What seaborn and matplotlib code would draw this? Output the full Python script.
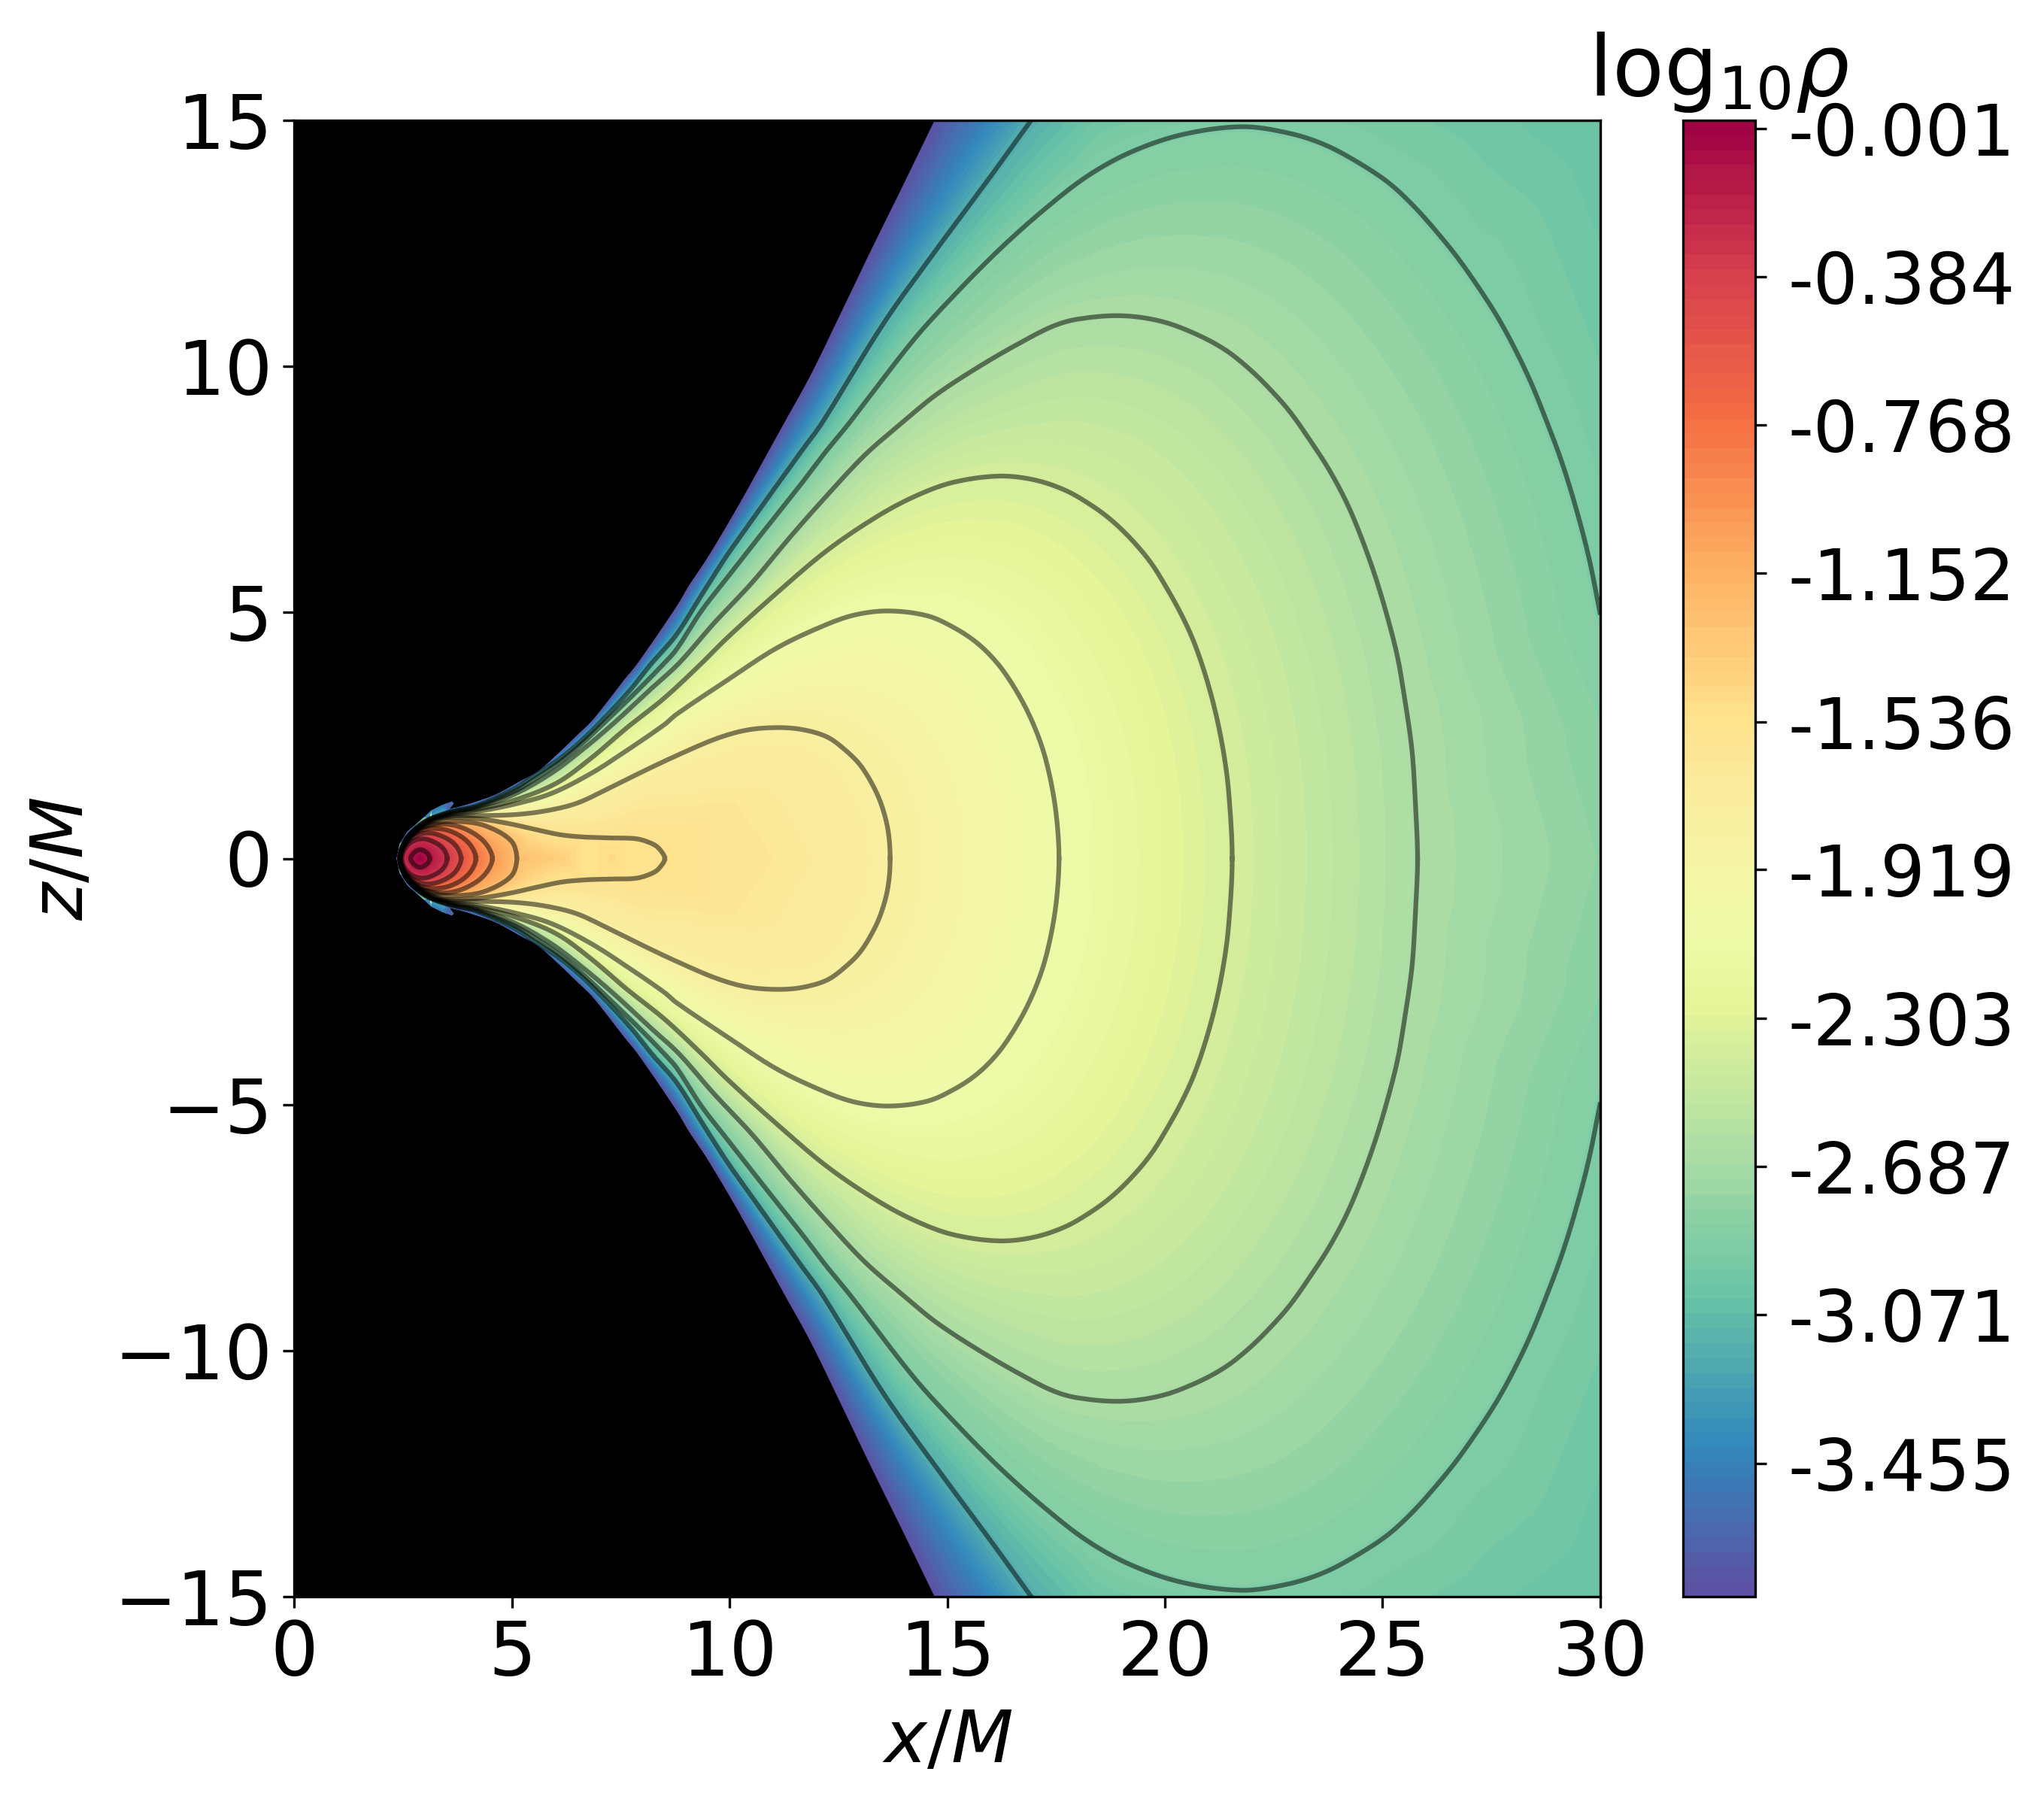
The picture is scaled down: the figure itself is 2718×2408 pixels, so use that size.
import numpy as np
import pandas as pd
import matplotlib
matplotlib.use("Agg")
import matplotlib.pyplot as plt
import matplotlib.tri as mtri
from matplotlib.colors import LinearSegmentedColormap
import seaborn as sns

# -----------------------------
# Data (upper half, disc is mirrored in z)
# -----------------------------
spike_x = [2.35, 2.42, 2.60, 2.85, 2.98, 3.15, 3.40, 3.62, 3.66, 3.56]
spike_z = [0.00, 0.30, 0.55, 0.74, 0.84, 0.98, 1.09, 1.16, 1.12, 1.00]
spike_val = [-3.78, -3.78, -3.78, -3.70, -3.60, -3.55, -3.55, -3.60, -3.60, -3.70]
bnd_x = [3.75, 4.06, 4.63, 5.21, 5.61, 6.13, 6.48, 6.82, 7.17, 7.57, 7.89, 8.78, 9.07, 9.47, 9.94, 10.40, 10.86,
         11.26, 11.86, 12.56, 13.25, 13.98, 14.71]
bnd_z = [1.04, 1.12, 1.30, 1.58, 1.78, 2.19, 2.49, 2.78, 3.16, 3.62, 3.97, 5.12, 5.55, 6.08, 6.77, 7.48, 8.22,
         8.86, 9.82, 11.09, 12.36, 13.67, 15.00]
bnd_level = -3.78

contour_levels = [-3.17, -2.88, -2.65, -2.38, -2.08, -1.78, -1.55, -1.25, -1.00, -0.78, -0.55, -0.32, -0.12]

c1_x = [16.93, 16.03, 14.74, 13.55, 12.13, 11.67, 11.09, 10.51, 9.94, 9.36, 8.78, 8.21, 7.75, 7.17, 6.59, 6.07,
        5.50, 5.04, 4.17, 3.60, 3.10, 2.80, 2.55, 2.42]
c1_z = [15.0, 13.9, 12.36, 10.89, 8.86, 8.30, 7.59, 6.87, 6.16, 5.36, 4.55, 3.97, 3.46, 2.90, 2.39, 2.01,
        1.68, 1.41, 1.07, 0.955, 0.80, 0.62, 0.37, 0.0]
c2_x = [30.0, 29.75, 29.45, 29.13, 28.79, 28.44, 28.09, 27.69, 27.29, 26.77, 26.31, 25.74, 25.16, 24.47, 23.66,
        22.80, 21.76, 20.40, 19.21, 18.21, 17.22, 16.23, 15.24, 14.24, 12.76, 12.24, 11.67, 10.80, 9.94, 9.36, 8.78,
        8.50, 7.86, 7.17, 6.59, 6.07, 5.50, 5.04, 4.17, 3.60, 3.10, 2.80, 2.55, 2.42]
c2_z = [5.0, 6.10, 7.12, 8.04, 8.85, 9.62, 10.28, 10.94, 11.50, 12.16, 12.67, 13.24, 13.72, 14.13, 14.51,
        14.75, 14.87, 14.71, 14.35, 13.86, 13.18, 12.40, 11.52, 10.55, 8.86, 8.30, 7.64, 6.67, 5.70, 5.04, 4.25,
        3.97, 3.39, 2.80, 2.32, 1.94, 1.60, 1.36, 1.05, 0.945, 0.79, 0.61, 0.365, 0.0]
c3_x = [25.81, 25.76, 25.68, 25.49, 25.35, 25.15, 24.86, 24.51, 24.17, 23.77, 23.36, 22.90, 22.50, 21.98, 21.40,
        20.71, 19.90, 18.98, 18.00, 17.44, 16.72, 15.74, 14.74, 13.97, 13.11, 12.24, 11.38, 10.51, 9.65, 8.84, 8.21,
        7.34, 6.59, 5.90, 5.04, 4.17, 3.60, 3.10, 2.80, 2.55, 2.42]
c3_z = [0.0, 1.10, 2.21, 3.38, 4.09, 4.80, 5.67, 6.54, 7.25, 7.91, 8.47, 9.05, 9.46, 9.92, 10.33,
        10.66, 10.92, 11.03, 10.96, 10.82, 10.50, 10.00, 9.42, 8.86, 8.20, 7.38, 6.52, 5.60, 4.79, 3.97, 3.46,
        2.75, 2.19, 1.73, 1.30, 1.03, 0.93, 0.78, 0.60, 0.36, 0.0]
c4_x = [21.55, 21.47, 21.36, 21.18, 20.95, 20.67, 20.38, 20.03, 19.69, 19.28, 18.82, 18.36, 17.72, 16.97, 16.16,
        15.12, 14.26, 13.39, 12.24, 11.09, 9.94, 9.36, 8.50, 7.63, 6.82, 6.02, 5.04, 4.17, 3.60, 3.10, 2.80, 2.55,
        2.42]
c4_z = [0.0, 1.34, 2.11, 2.92, 3.68, 4.40, 4.96, 5.52, 6.00, 6.44, 6.84, 7.15, 7.48, 7.70, 7.77,
        7.64, 7.36, 6.95, 6.26, 5.40, 4.48, 3.97, 3.26, 2.65, 2.04, 1.53, 1.18, 0.99, 0.91, 0.76, 0.585, 0.35,
        0.0]
c5_x = [17.57, 17.52, 17.40, 17.20, 16.91, 16.56, 16.16, 15.70, 15.18, 14.55, 13.68, 12.93, 12.24, 11.09, 9.94,
        8.78, 8.50, 7.63, 6.82, 5.90, 5.04, 4.17, 3.60, 3.10, 2.80, 2.55, 2.43]
c5_z = [0.0, 0.78, 1.49, 2.21, 2.87, 3.45, 3.96, 4.37, 4.68, 4.93, 5.03, 4.96, 4.76, 4.28, 3.62,
        2.93, 2.72, 2.19, 1.73, 1.32, 1.10, 0.95, 0.89, 0.75, 0.57, 0.34, 0.0]
c6_x = [13.69, 13.64, 13.49, 13.29, 13.00, 12.65, 12.24, 11.67, 11.09, 10.40, 9.71, 8.78, 7.92, 7.17, 6.48, 5.79,
        5.04, 4.17, 3.60, 3.10, 2.80, 2.55, 2.43]
c6_z = [0.0, 0.58, 1.09, 1.49, 1.90, 2.21, 2.47, 2.62, 2.66, 2.61, 2.44, 2.09, 1.73, 1.40, 1.12, 0.97,
        0.89, 0.87, 0.855, 0.73, 0.56, 0.33, 0.0]
c7_x = [8.51, 8.38, 8.21, 7.86, 7.28, 6.71, 6.13, 5.56, 4.98, 4.40, 4.00, 3.54, 3.13, 2.80, 2.56, 2.42]
c7_z = [0.0, 0.20, 0.305, 0.40, 0.417, 0.433, 0.48, 0.585, 0.70, 0.79, 0.825, 0.84, 0.81, 0.62, 0.37, 0.0]
c8_x = [5.11, 4.98, 4.40, 3.83, 3.26, 2.67, 2.41]
c8_z = [0.0, 0.36, 0.66, 0.75, 0.72, 0.50, 0.0]
c9_x = [4.55, 4.35, 3.90, 3.40, 2.90, 2.55, 2.42]
c9_z = [0.0, 0.35, 0.61, 0.70, 0.60, 0.32, 0.0]
c10_x = [4.17, 4.00, 3.60, 3.15, 2.80, 2.53, 2.43]
c10_z = [0.0, 0.32, 0.55, 0.61, 0.52, 0.28, 0.0]
c11_x = [3.83, 3.70, 3.40, 3.05, 2.75, 2.53, 2.44]
c11_z = [0.0, 0.27, 0.45, 0.52, 0.44, 0.24, 0.0]
c12_x = [3.51, 3.42, 3.20, 2.95, 2.70, 2.53, 2.47]
c12_z = [0.0, 0.20, 0.34, 0.40, 0.34, 0.18, 0.0]
c13_x = [3.11, 3.05, 2.89, 2.75, 2.67]
c13_z = [0.0, 0.11, 0.18, 0.12, 0.0]

# values away from the contour lines (ridge, inside of the last lines, top and right edges)
extra_x = [2.89, 6.20, 7.30, 10.50, 12.00, 8.00, 10.50, 11.50, 9.50, 30.0, 30.0, 30.0, 30.0, 30.0, 27.5, 25.0, 21.7,
           18.5]
extra_z = [0.0, 0.0, 0.0, 0.0, 0.0, 1.10, 1.30, 1.60, 0.80, 0.0, 2.5, 7.5, 10.0, 15.0, 15.0, 15.0, 15.0, 15.0]
extra_val = [-0.001, -1.40, -1.47, -1.62, -1.68, -1.65, -1.66, -1.70, -1.60, -2.80, -2.83, -2.91, -2.95, -3.03,
             -2.98, -2.93, -2.88, -2.98]

# colour bar, position along the bar and colour
cmap_pos = [0.0, 0.1, 0.2, 0.3, 0.4, 0.45, 0.5, 0.55, 0.6, 0.7, 0.8, 0.9, 1.0]
cmap_col = ["#5e4fa2", "#3288bd", "#66c2a5", "#abdda4", "#e6f598", "#eefaa8", "#f6f4a4", "#fbeb9d", "#fee08b",
            "#fdae61", "#f46d43", "#d53e4f", "#9e0142"]

cbar_ticks = [-0.001, -0.384, -0.768, -1.152, -1.536, -1.919, -2.303, -2.687, -3.071, -3.455]
cbar_labels = ["-0.001", "-0.384", "-0.768", "-1.152", "-1.536", "-1.919", "-2.303", "-2.687", "-3.071", "-3.455"]
x_ticks = [0, 5, 10, 15, 20, 25, 30]
z_ticks = [-15, -10, -5, 0, 5, 10, 15]

contours = [(c1_x, c1_z), (c2_x, c2_z), (c3_x, c3_z), (c4_x, c4_z), (c5_x, c5_z), (c6_x, c6_z), (c7_x, c7_z),
            (c8_x, c8_z), (c9_x, c9_z), (c10_x, c10_z), (c11_x, c11_z), (c12_x, c12_z), (c13_x, c13_z)]


# -----------------------------
# Round off the corners between read points
# -----------------------------
def round_curve(px, pz, closed=False, steps=8):
    p = np.c_[px, pz]
    if closed:
        p = np.vstack([p[-2:-1], p, p[1:2]])
    else:
        p = np.vstack([2 * p[0] - p[1], p, 2 * p[-1] - p[-2]])
    t = np.r_[0, np.cumsum(np.hypot(*np.diff(p, axis=0).T))]
    m = (p[2:] - p[:-2]) / (t[2:] - t[:-2])[:, None]
    out = []
    for i in range(len(m) - 1):
        h = t[i + 2] - t[i + 1]
        s = np.linspace(0, 1, steps, endpoint=False)[:, None]
        out.append((2 * s**3 - 3 * s**2 + 1) * p[i + 1] + (s**3 - 2 * s**2 + s) * h * m[i]
                   + (-2 * s**3 + 3 * s**2) * p[i + 2] + (s**3 - s**2) * h * m[i + 1])
    out.append(p[-2:-1])
    return np.vstack(out)


# -----------------------------
# Build tables
# -----------------------------
line_rows = []
field_rows = []
for i, ((cx, cz), lev) in enumerate(zip(contours, contour_levels)):
    cx = np.array(cx)
    cz = np.array(cz)
    whole_x = np.r_[cx, cx[-2::-1]]
    whole_z = np.r_[cz, -cz[-2::-1]]
    curve = round_curve(whole_x, whole_z, closed=bool(cz[0] == 0))
    line_rows.append(pd.DataFrame({"x": curve[:, 0], "z": curve[:, 1], "line": i, "step": np.arange(len(curve))}))
    field_rows.append(pd.DataFrame({"x": curve[:, 0], "z": curve[:, 1], "v": lev}))
lines = pd.concat(line_rows, ignore_index=True)

edge = round_curve(bnd_x, bnd_z)
edge_x = np.r_[spike_x, edge[:, 0]]
edge_z = np.r_[spike_z, edge[:, 1]]
edge_v = np.r_[spike_val, np.full(len(edge), bnd_level)]
for sign in (1, -1):
    field_rows.append(pd.DataFrame({"x": edge_x, "z": sign * edge_z, "v": edge_v}))
    field_rows.append(pd.DataFrame({"x": extra_x, "z": sign * np.array(extra_z), "v": extra_val}))
field = pd.concat(field_rows, ignore_index=True).round(4).drop_duplicates(subset=["x", "z"])

# -----------------------------
# Figure
# -----------------------------
W, H = 2718, 2408
fig = plt.figure(figsize=(W / 300, H / 300), dpi=300)
ax = fig.add_axes([391.5 / W, 1 - 2123 / H, (2127.5 - 391.5) / W, (2123 - 160) / H])
cax = fig.add_axes([2238 / W, 1 - 2123 / H, (2334 - 2238) / W, (2123 - 160) / H])

cmap = LinearSegmentedColormap.from_list("disc", list(zip(cmap_pos, cmap_col)), N=256)
fill_levels = np.linspace(-3.80, 0.02, 100)

ax.set_facecolor("black")
tri = mtri.Triangulation(field.x.values, field.z.values)
cs = ax.tricontourf(tri, field.v.values, levels=fill_levels, cmap=cmap)

# black where there is no disc
outline = np.r_[np.c_[edge_x, edge_z], [[30, 15], [30, -15]], np.c_[edge_x, -edge_z][::-1]]
clip = plt.Polygon(outline, transform=ax.transData)
cs.set_clip_path(clip)

sns.lineplot(data=lines, x="x", y="z", units="line", estimator=None, sort=False, color="k", alpha=0.5,
             linewidth=1.5, legend=False, ax=ax)

ax.set_xlim(0, 30)
ax.set_ylim(-15, 15)
ax.set_xticks(x_ticks)
ax.set_yticks(z_ticks)
ax.tick_params(labelsize=24)
ax.set_xlabel(r"$x/M$", fontsize=23, labelpad=5)
ax.set_ylabel(r"$z/M$", fontsize=23, labelpad=5)

cbar = fig.colorbar(cs, cax=cax, ticks=cbar_ticks)
cbar.ax.set_yticklabels(cbar_labels)
cbar.ax.tick_params(labelsize=22.5, pad=7)
cbar.ax.set_title(r"$\mathrm{log}_{10}\rho$", fontsize=27, pad=8)

fig.savefig("out.png", dpi=300)
